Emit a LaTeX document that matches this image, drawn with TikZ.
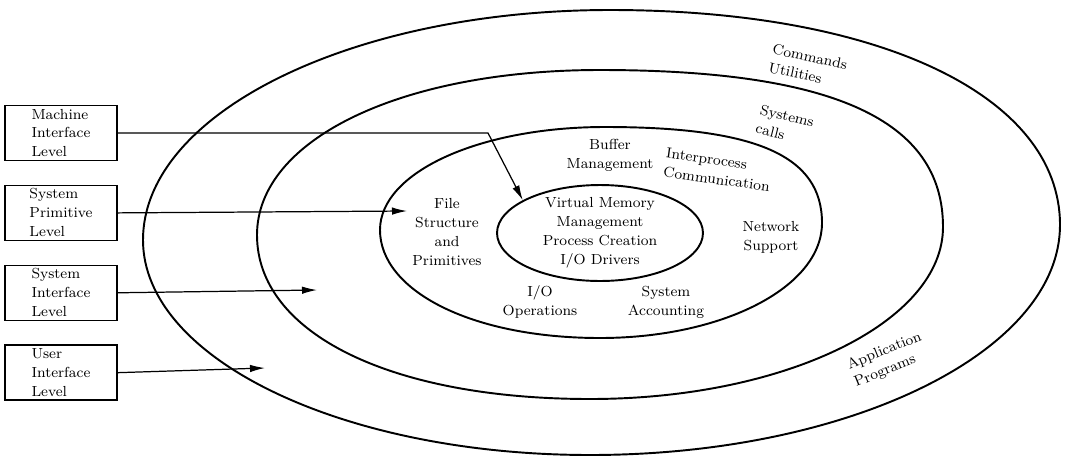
\documentclass[tikz,border=0pt]{standalone}
\usepackage{tikz}
\usetikzlibrary{positioning, shapes.geometric, arrows.meta}
\newcommand{\labelFont}{\fontsize{8.3}{10.8}\selectfont}
\tikzstyle{layers} = [x = 0.02cm, y = -0.02cm]
\tikzstyle{ringLine} = [color=black, line width=1.1pt]
\tikzstyle{levelBox} = [draw, line width=0.8pt, minimum width=2.24cm, minimum height=1.1cm, inner sep=0pt, align=left, font=\labelFont]
\tikzstyle{levelArrow} = [line width=0.7pt, -{Latex[length=3mm, width=1.5mm]}]
\tikzstyle{ringText} = [align=center, font=\labelFont, inner sep=1pt]
\tikzstyle{slantText} = [align=left, font=\labelFont, inner sep=1pt]

\begin{document}
\begin{tikzpicture}[layers]
  \useasboundingbox (0,0) rectangle (1065,457);

  % rings, outside in
  \draw [ringLine] (143,240) .. controls (143,113) and (352,10) .. (610,10)
    .. controls (880,10) and (1060,96) .. (1060,225)
    .. controls (1060,352) and (849,455) .. (590,455)
    .. controls (343,455) and (143,359) .. cycle;
  \draw [ringLine] (257,235) .. controls (257,140) and (400,70) .. (600,70)
    .. controls (833,70) and (943,120) .. (943,227)
    .. controls (943,322) and (785,399) .. (590,399)
    .. controls (390,399) and (257,333) .. cycle;
  \draw [ringLine] (380,230) .. controls (380,172) and (480,127) .. (605,127)
    .. controls (757,127) and (822,156) .. (822,223)
    .. controls (822,287) and (723,338) .. (600,338)
    .. controls (470,338) and (380,290) .. cycle;
  \node [ellipse, draw, ringLine, minimum width=4.12cm, minimum height=1.92cm, inner sep=0pt] (core) at (600,233) {};
  \node [ringText] (coreText) at (core.center) {Virtual Memory\\Management\\Process Creation\\I/O Drivers};

  % ring labels
  \node [ringText] (buffer) at (610,155) {Buffer\\Management};
  \node [slantText, rotate=-8] (interprocess) at (718,170) {Interprocess\\Communication};
  \node [ringText] (network) at (771,237) {Network\\Support};
  \node [ringText] (fileStructure) at (447,232) {File\\Structure\\and\\Primitives};
  \node [ringText] (ioOperations) at (540,302) {I/O\\Operations};
  \node [ringText] (accounting) at (666,302) {System\\Accounting};
  \node [slantText, rotate=-14] (systemCalls) at (785,125) {Systems\\calls};
  \node [slantText, rotate=-12] (commands) at (808,66) {Commands\\Utilities};
  \node [slantText, rotate=22] (applications) at (888,360) {Application\\Programs};

  % level boxes
  \node [levelBox] (machineLevel) at (61,133) {Machine\\Interface\\Level};
  \node [levelBox, below=0.47cm of machineLevel] (primitiveLevel) {System\\Primitive\\Level};
  \node [levelBox, below=0.47cm of primitiveLevel] (interfaceLevel) {System\\Interface\\Level};
  \node [levelBox, below=0.47cm of interfaceLevel] (userLevel) {User\\Interface\\Level};

  \coordinate (machineBend) at (488,133);
  \coordinate (primitiveEnd) at (407,211);
  \coordinate (interfaceEnd) at (317,290);
  \coordinate (userEnd) at (265,368);

  \draw [levelArrow] (machineLevel.east) -- (machineBend) -- (core.157);
  \draw [levelArrow] (primitiveLevel.east) -- (primitiveEnd);
  \draw [levelArrow] (interfaceLevel.east) -- (interfaceEnd);
  \draw [levelArrow] (userLevel.east) -- (userEnd);
\end{tikzpicture}
\end{document}
